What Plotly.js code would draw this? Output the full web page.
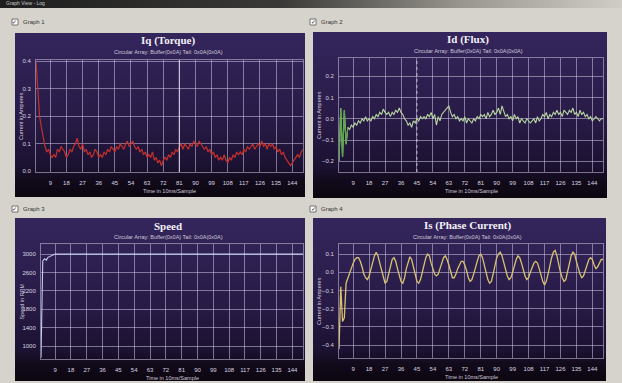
<!DOCTYPE html>
<html><head><meta charset="utf-8">
<script src="https://cdn.plot.ly/plotly-3.0.1.min.js"></script>
<style>html,body{margin:0;padding:0;background:#d6d3cc;}#c{width:622px;height:383px;}</style>
</head><body><div id="c"></div>
<script>
// ---- data ----
const samples = Array.from({length:150},(_,i)=>i+1);
const xTicks = [9,18,27,36,45,54,63,72,81,90,99,108,117,126,135,144];
const graphTitles = ["Iq (Torque)","Id (Flux)","Speed","Is (Phase Current)"];
const graphNames = ["Graph 1","Graph 2","Graph 3","Graph 4"];
const yTitles = ["Current in Amperes","Current in Amperes","Speed in RPM","Current in Amperes"];
const subTitle = "Circular Array: Buffer(0x0A) Tail: 0x0A(0x0A)";
const xTitle = "Time in 10ms/Sample";

const iqTicks = [0.0,0.1,0.2,0.3,0.4];
const idTicks = [-0.2,-0.1,0.0,0.1,0.2];
const speedTicks = [1000,1400,1800,2200,2600,3000];
const isTicks = [-0.4,-0.3,-0.2,-0.1,0.0,0.1];

const iqVals = [0.40,0.30,0.20,0.16,0.12,0.09,0.07,0.08,0.06,0.05,
0.06,0.05,0.08,0.07,0.09,0.08,0.07,0.05,0.06,0.08,
0.07,0.09,0.10,0.12,0.09,0.08,0.10,0.07,0.08,0.06,
0.07,0.05,0.06,0.08,0.07,0.05,0.06,0.05,0.07,0.06,
0.08,0.07,0.09,0.08,0.07,0.09,0.08,0.10,0.09,0.08,
0.10,0.11,0.09,0.10,0.11,0.09,0.08,0.09,0.07,0.08,
0.06,0.07,0.05,0.06,0.05,0.07,0.04,0.05,0.03,0.04,
0.02,0.04,0.05,0.04,0.06,0.05,0.07,0.06,0.08,0.07,
0.09,0.10,0.08,0.10,0.09,0.08,0.10,0.09,0.11,0.10,
0.09,0.11,0.10,0.09,0.08,0.09,0.07,0.08,0.06,0.07,
0.05,0.06,0.04,0.05,0.04,0.06,0.04,0.03,0.05,0.04,
0.06,0.05,0.07,0.06,0.07,0.06,0.08,0.07,0.09,0.08,
0.09,0.10,0.08,0.09,0.10,0.09,0.11,0.09,0.10,0.08,
0.10,0.09,0.10,0.08,0.09,0.07,0.08,0.06,0.07,0.05,
0.04,0.03,0.02,0.03,0.04,0.05,0.06,0.05,0.07,0.08];

const idVals = [-0.20,0.05,-0.18,0.04,-0.12,-0.04,-0.05,-0.03,-0.04,-0.02,
-0.03,-0.01,-0.02,0.00,-0.01,0.01,-0.01,0.00,-0.01,0.01,
0.00,0.02,0.01,0.03,0.02,0.045,0.03,0.02,0.03,0.01,
0.03,0.02,0.04,0.03,0.05,0.03,0.02,0.00,-0.01,-0.03,
-0.02,-0.04,-0.01,-0.02,0.00,-0.01,0.01,0.00,0.01,0.00,
0.02,0.01,0.03,0.00,0.02,-0.03,0.01,-0.01,0.02,0.03,
0.04,0.05,0.06,0.03,0.01,0.02,0.00,0.01,-0.01,0.00,
-0.01,0.01,-0.02,0.00,-0.01,-0.02,0.00,-0.01,0.01,0.00,
0.02,0.01,0.02,0.00,0.03,0.01,0.02,0.04,0.02,0.03,
0.05,0.02,0.06,0.03,0.01,0.02,0.00,0.01,-0.01,0.02,
0.00,0.01,-0.02,0.00,-0.01,-0.02,0.00,-0.01,-0.02,-0.01,
0.00,-0.02,0.01,-0.01,0.00,0.02,0.01,0.03,0.00,0.02,
0.01,0.03,0.02,0.04,0.02,0.03,0.01,0.04,0.03,0.02,
0.04,0.03,0.05,0.02,0.03,0.01,0.04,0.02,0.03,0.01,
0.02,0.00,0.01,-0.01,0.00,0.01,0.00,-0.01,0.00,0.00];

const speedVals = [750,2850,2900,2870,2930,2950,2970,2990,3000,3000,
3000,3000,3000,3000,3000,3000,3000,3000,3000,3000,
3000,3000,3000,3000,3000,3000,3000,3000,3000,3000,
3000,3000,3000,3000,3000,3000,3000,3000,3000,3000,
3000,3000,3000,3000,3000,3000,3000,3000,3000,3000,
3000,3000,3000,3000,3000,3000,3000,3000,3000,3000,
3000,3000,3000,3000,3000,3000,3000,3000,3000,3000,
3000,3000,3000,3000,3000,3000,3000,3000,3000,3000,
3000,3000,3000,3000,3000,3000,3000,3000,3000,3000,
3000,3000,3000,3000,3000,3000,3000,3000,3000,3000,
3000,3000,3000,3000,3000,3010,3015,3005,3000,3000,
3000,3000,3000,3000,3000,3000,3000,3000,3000,3000,
3000,3000,3000,3000,3000,3000,3000,3000,3000,3000,
3000,3000,3000,3000,3000,3000,3000,3000,3000,3000,
3000,3000,3000,3000,3000,3000,3000,3000,3000,3000];

const isVals = [-0.42,-0.08,-0.27,-0.25,-0.06,-0.03,-0.01,0.02,0.05,0.07,
0.08,0.08,0.06,0.03,-0.01,-0.03,-0.04,-0.02,0.02,0.06,
0.09,0.11,0.09,0.05,0.01,-0.03,-0.06,-0.05,-0.01,0.03,
0.07,0.08,0.06,0.02,-0.02,-0.05,-0.06,-0.03,0.02,0.06,
0.085,0.07,0.03,-0.01,-0.05,-0.06,-0.04,0.00,0.04,0.08,
0.10,0.09,0.05,0.02,-0.01,-0.02,-0.01,0.02,0.05,0.08,
0.09,0.07,0.04,0.00,-0.03,-0.03,-0.01,0.02,0.04,0.06,
0.06,0.04,0.01,-0.03,-0.05,-0.04,-0.01,0.03,0.06,0.09,
0.10,0.08,0.04,0.00,-0.04,-0.06,-0.05,-0.01,0.04,0.08,
0.10,0.11,0.09,0.05,0.01,-0.02,-0.04,-0.03,0.00,0.04,
0.07,0.09,0.08,0.05,0.01,-0.02,-0.04,-0.03,0.00,0.03,
0.05,0.06,0.05,0.02,-0.02,-0.05,-0.07,-0.05,-0.01,0.04,
0.08,0.11,0.12,0.09,0.04,0.00,-0.03,-0.05,-0.04,0.00,
0.05,0.09,0.11,0.10,0.06,0.02,-0.01,-0.03,-0.02,0.01,
0.04,0.07,0.08,0.07,0.04,0.02,0.03,0.05,0.07,0.07];

// ---- geometry helpers ----
const W=622,H=383;
const px = x=>x/W, py = y=>1-y/H;
function grad(stops,dir){
  const x2 = dir==='h'?1:0, y2 = dir==='h'?0:1;
  const s = stops.map(st=>`<stop offset="${st[0]}" stop-color="${st[1]}"/>`).join('');
  const svg = `<svg xmlns="http://www.w3.org/2000/svg" width="100" height="100" viewBox="0 0 100 100" preserveAspectRatio="none"><defs><linearGradient id="g" x1="0" y1="0" x2="${x2}" y2="${y2}">${s}</linearGradient></defs><rect width="100" height="100" fill="url(#g)"/></svg>`;
  return 'data:image/svg+xml;charset=utf-8,'+encodeURIComponent(svg);
}
const panelGrad = grad([[0,'#34265c'],[0.55,'#271a45'],[0.82,'#1b1130'],[0.9,'#110a1a'],[1,'#0c0610']],'v');

const panels = [
  {px0:15,px1:305,py0:33,py1:197, x0:36,x1:303,y0:60,y1:172, label:[21,22], cb:[12,19]},
  {px0:313,px1:607,py0:32,py1:198, x0:339,x1:603,y0:58,y1:172, label:[319,22], cb:[310,19]},
  {px0:15,px1:305,py0:218,py1:381, x0:41,x1:303,y0:244,y1:359, label:[21,209], cb:[12,206]},
  {px0:313,px1:606,py0:218,py1:381, x0:339,x1:603,y0:244,y1:358, label:[319,209], cb:[310,206]}
];
const yRanges = [[-0.003,0.405],[-0.25,0.285],[720,3220],[-0.47,0.155]];
const yTickSets = [iqTicks,idTicks,speedTicks,isTicks];
const yFormats = ['.1f','.1f','d','.1f'];

const gridC = 'rgba(205,195,225,0.55)';
const tickFont = {family:'Liberation Sans, Arial, sans-serif', size:6, color:'#d8d4e2'};

const layout = {width:W,height:H,margin:{l:0,r:0,t:0,b:0},
  paper_bgcolor:'#d6d3cc', plot_bgcolor:'rgba(0,0,0,0)', showlegend:false,
  images:[], shapes:[], annotations:[]};

// window title bar
layout.images.push({source:grad([[0,'#1e1e1e'],[0.45,'#3a3836'],[0.75,'#9a9890'],[1,'#d0cdc6']],'h'),
  xref:'paper',yref:'paper',x:0,y:1,sizex:1,sizey:8/H,sizing:'stretch',layer:'below',xanchor:'left',yanchor:'top'});
layout.annotations.push({xref:'paper',yref:'paper',x:px(4),y:py(3.5),text:'Graph View - Log',showarrow:false,
  xanchor:'left',yanchor:'middle',font:{family:'Liberation Sans, Arial',size:5,color:'#c8c8c8'}});

panels.forEach((p,i)=>{
  const n = i+1;
  const xa = 'xaxis'+(n===1?'':n), ya='yaxis'+(n===1?'':n);
  layout.images.push({source:panelGrad,xref:'paper',yref:'paper',x:px(p.px0),y:py(p.py0),
    sizex:px(p.px1)-px(p.px0),sizey:py(p.py0)-py(p.py1),sizing:'stretch',layer:'below',xanchor:'left',yanchor:'top'});
  layout[xa] = {domain:[px(p.x0),px(p.x1)], range:[1,150], anchor:'y'+(n===1?'':n),
    tickmode:'array', tickvals:xTicks, ticktext:xTicks.map(String), ticks:'outside', ticklen:5, tickcolor:'rgba(0,0,0,0)',
    showgrid:true, gridcolor:gridC, gridwidth:1, zeroline:false, showline:true, linecolor:gridC, mirror:true,
    tickfont:tickFont, fixedrange:true};
  layout[ya] = {domain:[py(p.y1),py(p.y0)], range:yRanges[i], anchor:'x'+(n===1?'':n),
    tickmode:'array', tickvals:yTickSets[i], tickformat:yFormats[i], ticks:'outside', ticklen:3, tickcolor:'rgba(0,0,0,0)',
    showgrid:true, gridcolor:gridC, gridwidth:1, zeroline:false, showline:true, linecolor:gridC, mirror:true,
    tickfont:tickFont, fixedrange:true};
  const cx = (p.px0+p.px1)/2 + 8;
  layout.annotations.push({xref:'paper',yref:'paper',x:px(cx),y:py(p.py0+8),text:'<b>'+graphTitles[i]+'</b>',showarrow:false,
    xanchor:'center',yanchor:'middle',font:{family:'Liberation Serif, DejaVu Serif, serif',size:11,color:'#f2f0f8'}});
  layout.annotations.push({xref:'paper',yref:'paper',x:px(cx),y:py(p.py0+19),text:subTitle,showarrow:false,
    xanchor:'center',yanchor:'middle',font:{family:'Liberation Sans, Arial',size:5.5,color:'#cfc8dc'}});
  layout.annotations.push({xref:'paper',yref:'paper',x:px((p.x0+p.x1)/2),y:py(p.y1+19),text:xTitle,showarrow:false,
    xanchor:'center',yanchor:'middle',font:{family:'Liberation Sans, Arial',size:5.5,color:'#cfc8dc'}});
  layout.annotations.push({xref:'paper',yref:'paper',x:px(p.px0+6),y:py((p.y0+p.y1)/2),text:yTitles[i],showarrow:false,textangle:-90,
    xanchor:'center',yanchor:'middle',font:{family:'Liberation Sans, Arial',size:5.5,color:'#cfc8dc'}});
  // checkbox + label
  layout.shapes.push({type:'rect',xref:'paper',yref:'paper',x0:px(p.cb[0]),x1:px(p.cb[0]+6),y0:py(p.cb[1]+6),y1:py(p.cb[1]),
    fillcolor:'#ffffff',line:{color:'#555',width:0.8}});
  layout.annotations.push({xref:'paper',yref:'paper',x:px(p.cb[0]+3),y:py(p.cb[1]+3),text:'✓',showarrow:false,
    xanchor:'center',yanchor:'middle',font:{family:'DejaVu Sans',size:6,color:'#222'}});
  layout.annotations.push({xref:'paper',yref:'paper',x:px(p.label[0]),y:py(p.label[1]),text:graphNames[i],showarrow:false,
    xanchor:'left',yanchor:'middle',font:{family:'Liberation Sans, Arial',size:6,color:'#333'}});
});

// cursor lines
layout.shapes.push({type:'line',xref:'x',yref:'paper',x0:81,x1:81,y0:py(172),y1:py(60),line:{color:'rgba(230,225,240,0.75)',width:1.2}});
layout.shapes.push({type:'line',xref:'x2',yref:'paper',x0:45,x1:45,y0:py(172),y1:py(58),line:{color:'rgba(230,225,240,0.7)',width:1,dash:'dot'}});

const data = [
  {x:samples,y:iqVals,xaxis:'x',yaxis:'y',type:'scatter',mode:'lines',line:{color:'#c4302c',width:1.2}},
  {x:samples,y:idVals,xaxis:'x2',yaxis:'y2',type:'scatter',mode:'lines',line:{color:'#b9d6a2',width:1.1}},
  {x:samples.slice(0,6),y:idVals.slice(0,6),xaxis:'x2',yaxis:'y2',type:'scatter',mode:'lines',line:{color:'#5ca848',width:1.2}},
  {x:samples,y:speedVals,xaxis:'x3',yaxis:'y3',type:'scatter',mode:'lines',line:{color:'#c4cef0',width:1.1}},
  {x:samples,y:isVals,xaxis:'x4',yaxis:'y4',type:'scatter',mode:'lines',line:{color:'#d9c270',width:1.3}}
];
Plotly.newPlot('c',data,layout,{staticPlot:true,displayModeBar:false});
</script></body></html>
